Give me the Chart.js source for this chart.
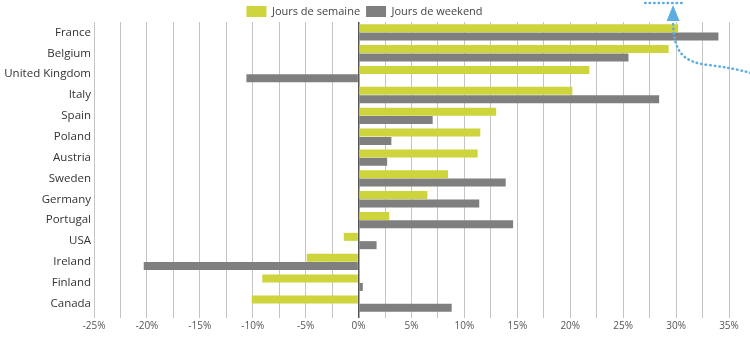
<!DOCTYPE html>
<html>
<head>
<meta charset="utf-8">
<script src="https://cdn.jsdelivr.net/npm/chart.js@4.4.1/dist/chart.umd.min.js"></script>
<style>
  html, body { margin: 0; padding: 0; background: #ffffff; }
  #wrap { width: 750px; height: 342px; }
</style>
</head>
<body>
<div id="wrap"><canvas id="chart"></canvas></div>
<script>
(function() {
  'use strict';

  // Data (percent change)
  const countries = ['France', 'Belgium', 'United Kingdom', 'Italy', 'Spain', 'Poland', 'Austria',
    'Sweden', 'Germany', 'Portugal', 'USA', 'Ireland', 'Finland', 'Canada'];
  const weekdays = [30.2, 29.3, 21.8, 20.2, 13.0, 11.5, 11.25, 8.45, 6.5, 2.9, -1.4, -4.9, -9.1, -10.1];
  const weekends = [34.0, 25.5, -10.6, 28.4, 7.0, 3.1, 2.7, 13.9, 11.4, 14.6, 1.7, -20.3, 0.4, 8.8];
  const seriesNames = ['Jours de semaine', 'Jours de weekend'];

  const FONT = '"Open Sans", "DejaVu Sans", sans-serif';

  // Keep the legend band a fixed height
  const legendHeight = {
    id: 'legendHeight',
    beforeInit(chart) {
      const fit = chart.legend.fit;
      chart.legend.fit = function() {
        fit.call(this);
        this.height = 22;
      };
    }
  };

  // Blue dotted arrow drawn over the top right of the chart
  const arrowPlugin = {
    id: 'arrowNote',
    afterDraw(chart) {
      const ctx = chart.ctx;
      const x0 = chart.scales.x.getPixelForValue(30) - 3;
      ctx.save();
      ctx.strokeStyle = '#5dade2';
      ctx.fillStyle = '#5dade2';
      ctx.lineWidth = 2.5;
      ctx.lineCap = 'round';
      ctx.setLineDash([0.5, 4]);
      ctx.beginPath();
      ctx.moveTo(x0 - 28, 3);
      ctx.lineTo(x0 + 9, 3);
      ctx.stroke();
      ctx.beginPath();
      ctx.moveTo(x0, 24);
      ctx.bezierCurveTo(x0 + 1, 52, x0 + 10, 62, x0 + 35, 65);
      ctx.quadraticCurveTo(x0 + 60, 68, x0 + 78, 73);
      ctx.stroke();
      ctx.setLineDash([]);
      ctx.beginPath();
      ctx.moveTo(x0, 5);
      ctx.lineTo(x0 - 6.5, 21);
      ctx.lineTo(x0 + 6.5, 21);
      ctx.closePath();
      ctx.fill();
      ctx.restore();
    }
  };

  new Chart(document.getElementById('chart'), {
    type: 'bar',
    data: {
      labels: countries,
      datasets: [
        {
          label: seriesNames[0],
          data: weekdays,
          backgroundColor: '#cdd43c',
          barPercentage: 0.96,
          categoryPercentage: 0.8
        },
        {
          label: seriesNames[1],
          data: weekends,
          backgroundColor: '#7f7f7f',
          barPercentage: 0.96,
          categoryPercentage: 0.8
        }
      ]
    },
    options: {
      indexAxis: 'y',
      responsive: true,
      maintainAspectRatio: false,
      animation: false,
      layout: { padding: { top: 0, right: 21, bottom: 8, left: 0 } },
      plugins: {
        legend: {
          display: true,
          position: 'top',
          labels: {
            color: '#444',
            font: { family: FONT, size: 11 },
            boxWidth: 20,
            boxHeight: 11,
            padding: 6
          }
        },
        tooltip: { enabled: false }
      },
      scales: {
        x: {
          min: -25,
          max: 35,
          ticks: {
            stepSize: 2.5,
            autoSkip: false,
            maxRotation: 0,
            color: '#555',
            font: { family: FONT, size: 10 },
            padding: 2,
            callback: function(value) {
              return (Math.abs(value % 5) < 0.001) ? value + '%' : '';
            }
          },
          grid: {
            color: function(c) {
              return c.tick && c.tick.value === 0 ? '#555' : '#c4c4c4';
            },
            lineWidth: function(c) {
              return c.tick && c.tick.value === 0 ? 1.5 : 1;
            },
            tickLength: 4,
            drawTicks: true
          },
          border: { display: false }
        },
        y: {
          ticks: {
            color: '#333',
            font: { family: FONT, size: 11.5 },
            padding: 3
          },
          grid: { display: false, drawTicks: false },
          border: { display: false },
          afterFit: function(scale) { scale.width = 94; }
        }
      }
    },
    plugins: [legendHeight, arrowPlugin]
  });
})();
</script>
</body>
</html>
